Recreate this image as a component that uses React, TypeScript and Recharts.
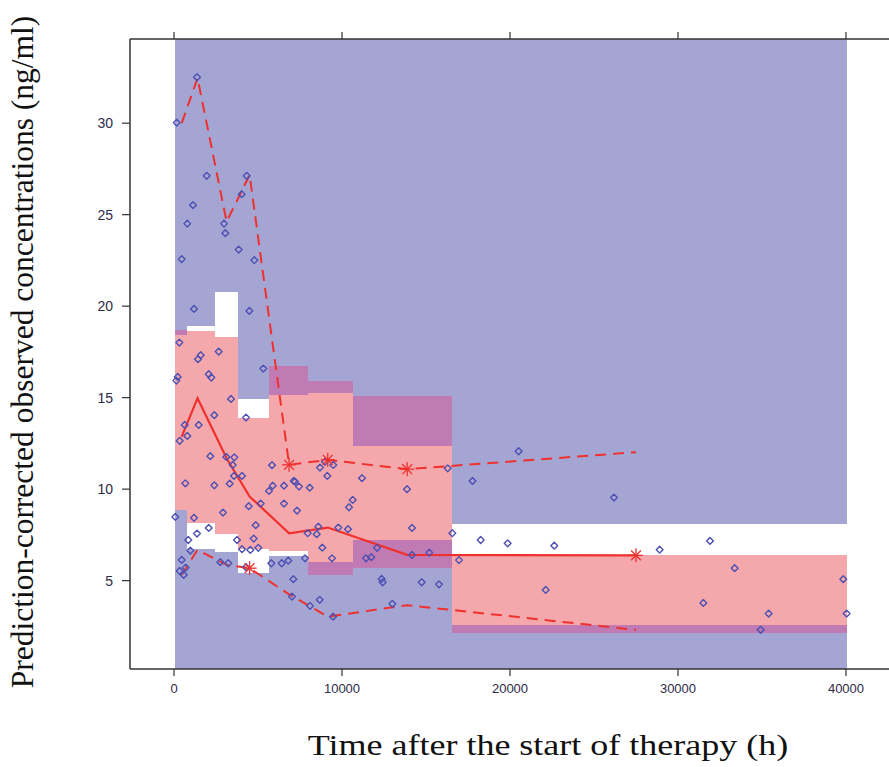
import React from 'react';
import { ComposedChart, XAxis, YAxis, Scatter, Line, ReferenceArea } from 'recharts';

// ---- Bins (time, h) ----
const binEdges = [80, 770, 2440, 3810, 5650, 7970, 10630, 16560, 40060];
// CI of 95th percentile (lower bound; upper bound beyond plot)
const upperLo = [18.44, 18.92, 20.78, 14.94, 15.17, 15.28, 12.38, 8.09];
// CI of median
const medianHi = [18.7, 18.65, 18.31, 13.88, 16.75, 15.92, 15.1, 6.41];
const medianLo = [8.86, 8.17, 7.57, 6.72, 6.62, 5.33, 5.68, 2.13];
// CI of 5th percentile (upper bound; lower bound beyond plot)
const lowerHi = [8.86, 6.72, 6.59, 5.44, 6.33, 6.04, 7.23, 2.55];

// ---- Observed percentiles per bin ----
const binTimes = [458, 1400, 3130, 4500, 6850, 9150, 13880, 27500];
const obsMedian = [12.87, 14.97, 11.69, 9.6, 7.59, 7.9, 6.41, 6.38];
const obsUpper = [30.0, 32.46, 24.62, 27.17, 11.33, 11.6, 11.09, 12.02];
const obsLower = [5.32, 6.68, 5.86, 5.68, 4.25, 3.03, 3.66, 2.31];

// ---- Outside-CI markers ----
const starTimes = [6850, 9150, 13880, 4500, 27500];
const starConc = [11.33, 11.6, 11.09, 5.68, 6.38];

// ---- Observations ----
const obsTime = [
  160, 1369, 1946, 4327, 4030, 1131, 792, 2976, 3054, 3851, 458, 4780, 1190, 4482,
  315, 2660, 1589, 1429, 5316, 220, 137, 2065, 2220, 3393, 4286, 2399, 637, 1470,
  792, 339, 2161, 3113, 3589, 3494, 5833, 3571, 4048, 673, 2399, 3315, 5875, 6548,
  5655, 7125, 6548, 5161, 4446, 2917, 77, 1190, 4863, 2065, 1369, 4744, 851, 3750,
  4048, 4542, 5018, 970, 458, 2756, 3232, 4286, 5792, 6411, 6804, 339, 577, 696,
  7101, 7024, 8690, 8988, 9482, 9125, 7202, 7440, 8077, 11190, 10637, 10417, 7321,
  13869, 16290, 17768, 8591, 7958, 8494, 9780, 10357, 14167, 16567, 8829, 12083,
  7798, 9405, 11429, 11744, 14167, 15196, 16964, 12361, 12421, 14742, 15774, 8095,
  8671, 9464, 12995, 20515, 26190, 18254, 19861, 22637, 28909, 31905, 33374, 39839,
  22125, 31508, 35397, 40040, 34920,
];
const obsConc = [
  30.03, 32.51, 27.12, 27.12, 26.12, 25.52, 24.51, 24.51, 23.99, 23.09, 22.57, 22.51, 19.85, 19.74,
  18.01, 17.52, 17.32, 17.1, 16.59, 16.13, 15.93, 16.28, 16.1, 14.93, 13.91, 14.04, 13.51, 13.51,
  12.91, 12.64, 11.8, 11.76, 11.74, 11.32, 11.31, 10.72, 10.72, 10.32, 10.21, 10.3, 10.19, 10.19,
  9.9, 10.45, 9.21, 9.21, 9.07, 8.72, 8.48, 8.43, 8.03, 7.88, 7.57, 7.3, 7.22, 7.22,
  6.72, 6.68, 6.79, 6.64, 6.13, 6.01, 5.95, 5.73, 5.95, 5.95, 6.09, 5.53, 5.31, 5.71,
  5.08, 4.13, 11.18, 11.5, 11.32, 10.72, 10.41, 10.14, 10.08, 10.6, 9.41, 9.01, 8.83,
  10.0, 11.14, 10.45, 7.95, 7.59, 7.54, 7.9, 7.81, 7.88, 7.59, 6.8, 6.79,
  6.22, 6.22, 6.22, 6.28, 6.4, 6.53, 6.12, 5.09, 4.91, 4.91, 4.8, 3.62,
  3.95, 3.03, 3.73, 12.07, 9.54, 7.22, 7.04, 6.91, 6.69, 7.17, 5.68, 5.08,
  4.49, 3.78, 3.2, 3.2, 2.31,
];

const xTicks = [0, 10000, 20000, 30000, 40000];
const yTicks = [5, 10, 15, 20, 25, 30];

const X_MIN = -2620;
const X_MAX = 42620;
const Y_MIN = 0.17;
const Y_MAX = 34.6;

const BLUE = '#a4a5d2';
const PINK = '#f5a8ab';
const PURPLE = '#c17bb4';
const RED = '#f0302e';
const AXIS = '#333333';
const TICK_TEXT = '#2e2a48';

const points = obsTime.map((x, i) => ({ x, y: obsConc[i] }));
const medianData = binTimes.map((x, i) => ({ x, y: obsMedian[i] }));
const upperData = binTimes.map((x, i) => ({ x, y: obsUpper[i] }));
const lowerData = binTimes.map((x, i) => ({ x, y: obsLower[i] }));
const starData = starTimes.map((x, i) => ({ x, y: starConc[i] }));

const Diamond = (props: any) => {
  const { cx, cy } = props;
  if (cx == null || cy == null) return null;
  const r = 3.4;
  return (
    <path
      d={`M${cx},${cy - r}L${cx + r},${cy}L${cx},${cy + r}L${cx - r},${cy}Z`}
      fill="none"
      stroke="#4d50b3"
      strokeWidth={1.4}
      strokeLinejoin="round"
    />
  );
};

const Asterisk = (props: any) => {
  const { cx, cy } = props;
  if (cx == null || cy == null) return null;
  const r = 7;
  const d = r * 0.7071;
  return (
    <g stroke={RED} strokeWidth={1.3}>
      <line x1={cx - r} y1={cy} x2={cx + r} y2={cy} />
      <line x1={cx} y1={cy - r} x2={cx} y2={cy + r} />
      <line x1={cx - d} y1={cy - d} x2={cx + d} y2={cy + d} />
      <line x1={cx - d} y1={cy + d} x2={cx + d} y2={cy - d} />
    </g>
  );
};

const CrispRect = (props: any) => {
  const { x, y, width, height, fill } = props;
  if (x == null || y == null) return null;
  return (
    <rect
      x={x}
      y={y}
      width={width}
      height={height}
      fill={fill}
      stroke="none"
      shapeRendering="crispEdges"
    />
  );
};

export default function App() {
  const areas: React.ReactNode[] = [];
  const mk = (key: string, x1: number, x2: number, y1: number, y2: number, fill: string) => (
    <ReferenceArea
      key={key}
      x1={x1}
      x2={x2}
      y1={y1}
      y2={y2}
      fill={fill}
      fillOpacity={1}
      stroke="none"
      ifOverflow="hidden"
      shape={CrispRect}
    />
  );
  for (let i = 0; i < upperLo.length; i++) {
    const x1 = binEdges[i];
    const x2 = binEdges[i + 1];
    areas.push(mk(`u${i}`, x1, x2, upperLo[i], Y_MAX, BLUE));
    areas.push(mk(`l${i}`, x1, x2, Y_MIN, lowerHi[i], BLUE));
    areas.push(mk(`m${i}`, x1, x2, medianLo[i], medianHi[i], PINK));
    if (medianHi[i] > upperLo[i]) {
      areas.push(mk(`pu${i}`, x1, x2, upperLo[i], medianHi[i], PURPLE));
    }
    if (lowerHi[i] > medianLo[i]) {
      areas.push(mk(`pl${i}`, x1, x2, medianLo[i], lowerHi[i], PURPLE));
    }
  }

  return (
    <div style={{ position: 'absolute', left: 0, top: 0, width: 889, height: 767, overflow: 'hidden', background: '#fff' }}>
      <ComposedChart width={892} height={767} margin={{ top: 38, right: 2, bottom: 68, left: 0 }}>
        <XAxis
          xAxisId={0}
          dataKey="x"
          type="number"
          domain={[X_MIN, X_MAX]}
          ticks={xTicks}
          allowDataOverflow
          height={30}
          tickSize={7}
          tickMargin={8}
          axisLine={{ stroke: AXIS, strokeWidth: 1.5 }}
          tickLine={{ stroke: AXIS, strokeWidth: 1.2 }}
          tick={{ fill: TICK_TEXT, fontSize: 13, fontFamily: 'Liberation Sans, Arial, sans-serif' }}
        />
        <XAxis
          xAxisId="top"
          orientation="top"
          dataKey="x"
          type="number"
          domain={[X_MIN, X_MAX]}
          ticks={xTicks}
          allowDataOverflow
          height={1}
          tickSize={7}
          tickFormatter={() => ''}
          axisLine={{ stroke: AXIS, strokeWidth: 1.5 }}
          tickLine={{ stroke: AXIS, strokeWidth: 1.2 }}
        />
        <YAxis
          type="number"
          domain={[Y_MIN, Y_MAX]}
          ticks={yTicks}
          allowDataOverflow
          width={130}
          tickSize={8}
          tickMargin={9}
          axisLine={{ stroke: AXIS, strokeWidth: 1.5 }}
          tickLine={{ stroke: AXIS, strokeWidth: 1.2 }}
          tick={{ fill: TICK_TEXT, fontSize: 14, fontFamily: 'Liberation Sans, Arial, sans-serif' }}
        />
        {areas}
        <Scatter data={points} dataKey="y" shape={Diamond} isAnimationActive={false} />
        <Line data={upperData} dataKey="y" type="linear" stroke={RED} strokeWidth={2} strokeDasharray="11 7" dot={false} activeDot={false} isAnimationActive={false} />
        <Line data={lowerData} dataKey="y" type="linear" stroke={RED} strokeWidth={2} strokeDasharray="11 7" dot={false} activeDot={false} isAnimationActive={false} />
        <Line data={medianData} dataKey="y" type="linear" stroke={RED} strokeWidth={2.2} dot={false} activeDot={false} isAnimationActive={false} />
        <Scatter data={starData} dataKey="y" shape={Asterisk} isAnimationActive={false} />
      </ComposedChart>
      <div
        style={{
          position: 'absolute',
          left: 23,
          top: 352,
          transform: 'translate(-50%, -50%) rotate(-90deg)',
          whiteSpace: 'nowrap',
          fontFamily: '"Liberation Serif", "Times New Roman", serif',
          fontSize: 31.5,
          color: '#111',
        }}
      >
        Prediction-corrected observed concentrations (ng/ml)
      </div>
      <div
        style={{
          position: 'absolute',
          left: 548,
          top: 745,
          transform: 'translate(-50%, -50%) scaleX(1.2)',
          whiteSpace: 'nowrap',
          fontFamily: '"Liberation Serif", "Times New Roman", serif',
          fontSize: 30,
          color: '#111',
        }}
      >
        Time after the start of therapy (h)
      </div>
    </div>
  );
}
